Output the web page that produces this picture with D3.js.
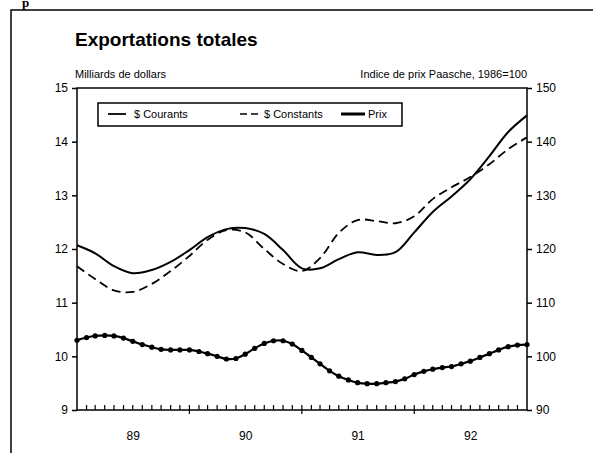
<!DOCTYPE html>
<html>
    <head>
        <meta charset="utf-8"/>
        <script src="https://d3js.org/d3.v7.min.js"></script>
        <style>
            body { margin: 0; background: #fff; }
            text { font-family: "Liberation Sans", Arial, sans-serif; fill: #000; }
        </style>
    </head>
    <body>
        <div id="chart"></div>
        <script>

            // monthly from jan 1989 to jan 1993
            var startMonth = new Date(1989, 0, 1);
            var yearLabels = ["89", "90", "91", "92"];
            var leftTicks = [9, 10, 11, 12, 13, 14, 15];
            var rightTicks = [90, 100, 110, 120, 130, 140, 150];

            // $ series, every 2 months (billions)
            var courants = [12.07, 11.92, 11.68, 11.55, 11.61, 11.76, 11.98, 12.22, 12.37, 12.39, 12.28, 11.98,
                            11.64, 11.64, 11.81, 11.94, 11.89, 11.94, 12.31, 12.69, 12.98, 13.30, 13.73, 14.18, 14.49];
            var constants = [11.68, 11.44, 11.23, 11.20, 11.35, 11.59, 11.87, 12.17, 12.35, 12.31, 12.00, 11.72,
                             11.59, 11.83, 12.30, 12.54, 12.52, 12.48, 12.61, 12.93, 13.15, 13.34, 13.58, 13.86, 14.08];

            // Paasche price index, monthly
            var prix = [103.0, 103.5, 103.8, 103.9, 103.8, 103.4, 102.8, 102.2, 101.7, 101.3, 101.2, 101.2,
                        101.2, 100.9, 100.5, 100.0, 99.5, 99.6, 100.4, 101.5, 102.4, 102.9, 102.9, 102.3,
                        101.1, 99.8, 98.6, 97.3, 96.3, 95.6, 95.1, 94.9, 94.9, 95.1, 95.3, 95.8,
                        96.6, 97.2, 97.6, 97.9, 98.1, 98.6, 99.1, 99.8, 100.5, 101.2, 101.8, 102.1, 102.2];

            var W = 593, H = 453;
            var pLeft = 77, pRight = 527, pTop = 88, pBottom = 410;

            var svg = d3.select("#chart").append("svg")
                .attr("width", W).attr("height", H);

            function month(i) { return d3.timeMonth.offset(startMonth, i); }

            var x = d3.scaleTime()
                .domain([month(0), month(48)])
                .range([pLeft, pRight]);
            var y = d3.scaleLinear().domain([9, 15]).range([pBottom, pTop]);
            var y2 = d3.scaleLinear().domain([90, 150]).range([pBottom, pTop]);

            // page frame
            svg.append("path")
                .attr("d", "M11," + H + "V10H" + W)
                .attr("fill", "none").attr("stroke", "#000").attr("stroke-width", 1.5);
            svg.append("text").attr("x", 22).attr("y", 7)
                .style("font-family", "Liberation Serif, serif").style("font-weight", "bold")
                .style("font-size", "13px").text("p");

            svg.append("text").attr("x", 75).attr("y", 46)
                .style("font-size", "19px").style("font-weight", "bold")
                .text("Exportations totales");
            svg.append("text").attr("x", 75).attr("y", 78)
                .style("font-size", "11px").text("Milliards de dollars");
            svg.append("text").attr("x", 527).attr("y", 78).attr("text-anchor", "end")
                .style("font-size", "11px").text("Indice de prix Paasche, 1986=100");

            // axes
            var yAxisL = d3.axisLeft(y).tickValues(leftTicks).tickFormat(d3.format("d")).tickSize(5).tickPadding(4);
            var yAxisR = d3.axisRight(y2).tickValues(rightTicks).tickFormat(d3.format("d")).tickSize(5).tickPadding(4);

            var gl = svg.append("g").attr("transform", "translate(" + pLeft + ",0)").call(yAxisL);
            var gr = svg.append("g").attr("transform", "translate(" + pRight + ",0)").call(yAxisR);
            [gl, gr].forEach(function(g) {
                g.select(".domain").remove();
                g.selectAll("line").attr("stroke", "#000").attr("stroke-width", 1.5);
                g.selectAll("text").style("font-size", "12px").style("font-family", "Liberation Sans, Arial, sans-serif");
            });

            svg.append("rect")
                .attr("x", pLeft).attr("y", pTop)
                .attr("width", pRight - pLeft).attr("height", pBottom - pTop)
                .attr("fill", "none").attr("stroke", "#000").attr("stroke-width", 1.5);

            // monthly ticks up, yearly ticks through the axis
            var months = d3.range(1, 48).map(month);
            svg.append("g").selectAll("line")
                .data(months)
                .enter().append("line")
                .attr("x1", function(d) { return x(d); })
                .attr("x2", function(d) { return x(d); })
                .attr("y1", function(d) { return d.getMonth() == 0 ? pBottom + 4 : pBottom; })
                .attr("y2", pBottom - 5)
                .attr("stroke", "#000").attr("stroke-width", 1.2);

            svg.append("g").selectAll("text")
                .data(yearLabels)
                .enter().append("text")
                .attr("x", function(d, i) { return (x(month(12 * i)) + x(month(12 * i + 12))) / 2; })
                .attr("y", 440)
                .attr("text-anchor", "middle")
                .style("font-size", "12px")
                .text(function(d) { return d; });

            // series
            var lineL = d3.line()
                .x(function(d, i) { return x(month(2 * i)); })
                .y(function(d) { return y(d); })
                .curve(d3.curveCatmullRom);

            svg.append("path").datum(courants)
                .attr("d", lineL)
                .attr("fill", "none").attr("stroke", "#000").attr("stroke-width", 2);
            svg.append("path").datum(constants)
                .attr("d", lineL)
                .attr("fill", "none").attr("stroke", "#000").attr("stroke-width", 1.8)
                .attr("stroke-dasharray", "9,5");

            var lineP = d3.line()
                .x(function(d, i) { return x(month(i)); })
                .y(function(d) { return y2(d); })
                .curve(d3.curveCatmullRom);
            svg.append("path").datum(prix)
                .attr("d", lineP)
                .attr("fill", "none").attr("stroke", "#000").attr("stroke-width", 2.2);
            svg.append("g").selectAll("circle")
                .data(prix)
                .enter().append("circle")
                .attr("cx", function(d, i) { return x(month(i)); })
                .attr("cy", function(d) { return y2(d); })
                .attr("r", 2.6)
                .attr("fill", "#000");

            // legend
            var lg = svg.append("g");
            lg.append("rect")
                .attr("x", 98).attr("y", 103).attr("width", 304).attr("height", 23)
                .attr("fill", "#fff").attr("stroke", "#000").attr("stroke-width", 1.5);
            lg.append("line").attr("x1", 108).attr("x2", 126).attr("y1", 114).attr("y2", 114)
                .attr("stroke", "#000").attr("stroke-width", 1.8);
            lg.append("text").attr("x", 134).attr("y", 118).style("font-size", "11px").text("$ Courants");
            lg.append("line").attr("x1", 240).attr("x2", 258).attr("y1", 114).attr("y2", 114)
                .attr("stroke", "#000").attr("stroke-width", 1.6).attr("stroke-dasharray", "7,4");
            lg.append("text").attr("x", 264).attr("y", 118).style("font-size", "11px").text("$ Constants");
            lg.append("line").attr("x1", 341).attr("x2", 365).attr("y1", 114).attr("y2", 114)
                .attr("stroke", "#000").attr("stroke-width", 3);
            lg.append("text").attr("x", 368).attr("y", 118).style("font-size", "11px").text("Prix");

        </script>
    </body>
</html>
